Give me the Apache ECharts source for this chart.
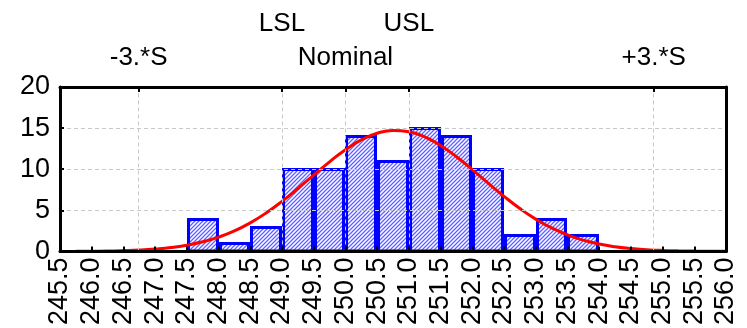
<!DOCTYPE html>
<html>
<head>
<meta charset="utf-8">
<style>
  html, body { margin: 0; padding: 0; background: #fff; }
  #chart { width: 747px; height: 328px; }
</style>
<script src="https://cdn.jsdelivr.net/npm/echarts/dist/echarts.min.js"></script>
</head>
<body>
<div id="chart"></div>
<script>
// Histogram bins: lower edge, upper edge, count
const binStart = [247.5, 248.0, 248.5, 249.0, 249.5, 250.0, 250.5, 251.0, 251.5, 252.0, 252.5, 253.0, 253.5];
const binEnd   = [248.0, 248.5, 249.0, 249.5, 250.0, 250.5, 251.0, 251.5, 252.0, 252.5, 253.0, 253.5, 254.0];
const binCount = [4, 1, 3, 10, 10, 14, 11, 15, 14, 10, 2, 4, 2];

// Fitted normal curve, sampled along the x axis
const curveX = [245.5, 245.75, 246.0, 246.25, 246.5, 246.75, 247.0, 247.25, 247.5, 247.75,
                248.0, 248.25, 248.5, 248.75, 249.0, 249.25, 249.5, 249.75, 250.0, 250.25,
                250.5, 250.75, 251.0, 251.25, 251.5, 251.75, 252.0, 252.25, 252.5, 252.75,
                253.0, 253.25, 253.5, 253.75, 254.0, 254.25, 254.5, 254.75, 255.0, 255.25,
                255.5, 255.75, 256.0];
const curveY = [0.007, 0.014, 0.03, 0.05, 0.10, 0.17, 0.29, 0.47, 0.76, 1.17,
                1.74, 2.50, 3.48, 4.68, 6.09, 7.65, 9.29, 10.90, 12.37, 13.56,
                14.37, 14.72, 14.57, 13.94, 12.89, 11.52, 9.95, 8.30, 6.70, 5.22,
                3.93, 2.86, 2.02, 1.37, 0.90, 0.57, 0.35, 0.21, 0.12, 0.07,
                0.04, 0.02, 0.01];

// Reference markers along the top edge
const markNames = ['-3.*S', 'LSL', 'Nominal', 'USL', '+3.*S'];
const markValues = [246.74, 249.0, 250.0, 251.0, 254.86];

const xMin = 245.5, xMax = 256.0, xStep = 0.5;
const yMin = 0, yMax = 20, yStep = 5;

const FONT = 'Liberation Sans, Arial, sans-serif';

// Diagonal hatch fill for the bars
function makeHatch() {
  const s = 4;
  const c = document.createElement('canvas');
  c.width = s; c.height = s;
  const g = c.getContext('2d');
  g.fillStyle = '#ffffff';
  g.fillRect(0, 0, s, s);
  g.strokeStyle = 'rgba(30,30,255,0.7)';
  g.lineWidth = 1.3;
  g.beginPath();
  g.moveTo(-1, s + 1); g.lineTo(s + 1, -1);
  g.moveTo(-1, 1); g.lineTo(1, -1);
  g.moveTo(s - 1, s + 1); g.lineTo(s + 1, s - 1);
  g.stroke();
  return c;
}
const hatch = { type: 'pattern', image: makeHatch(), repeat: 'repeat' };

const upperNames = ['LSL', 'USL'];
const lowerTop = [], upperTop = [];
markNames.forEach((n, i) => {
  (upperNames.indexOf(n) >= 0 ? upperTop : lowerTop).push(markValues[i]);
});
function markName(v) {
  let best = 0, bd = Infinity;
  markValues.forEach((m, i) => { const d = Math.abs(m - v); if (d < bd) { bd = d; best = i; } });
  return markNames[best];
}

const bins = binStart.map((s, i) => [s, binEnd[i], binCount[i]]);
const curve = curveX.map((x, i) => [x, curveY[i]]);

const chart = echarts.init(document.getElementById('chart'), null, { renderer: 'canvas' });

const frameLine = { show: true, onZero: false, lineStyle: { color: '#000', width: 3 } };
const labelText = { color: '#000', fontFamily: FONT, fontSize: 27 };
const topText = { color: '#000', fontFamily: FONT, fontSize: 26 };

chart.setOption({
  animation: false,
  backgroundColor: '#fff',
  grid: { left: 60, right: 21, top: 87, bottom: 76 },
  xAxis: [
    {
      type: 'value', min: xMin, max: xMax, interval: xStep, z: 10,
      axisLine: frameLine,
      axisTick: { show: true, inside: true, length: 5, lineStyle: { color: '#000', width: 2 } },
      splitLine: { show: false },
      axisLabel: Object.assign({ rotate: 90, margin: 6, formatter: v => v.toFixed(1) }, labelText)
    },
    {
      type: 'value', position: 'top', min: xMin, max: xMax, z: 10,
      axisLine: frameLine, splitLine: { show: false },
      axisTick: { show: true, inside: true, length: 5, customValues: markValues, lineStyle: { color: '#000', width: 2 } },
      axisLabel: Object.assign({ margin: 16, customValues: lowerTop, formatter: markName }, topText)
    },
    {
      type: 'value', position: 'top', min: xMin, max: xMax, offset: 34,
      axisLine: { show: false }, axisTick: { show: false }, splitLine: { show: false },
      axisLabel: Object.assign({ margin: 16, customValues: upperTop, formatter: markName }, topText)
    }
  ],
  yAxis: [
    {
      type: 'value', min: yMin, max: yMax, interval: yStep, z: 10,
      axisLine: frameLine,
      axisTick: { show: true, inside: true, length: 4, lineStyle: { color: '#000', width: 2 } },
      splitLine: { show: true, lineStyle: { color: '#c8c8c8', type: [4, 3], width: 1 } },
      axisLabel: Object.assign({ margin: 10 }, labelText)
    },
    {
      type: 'value', position: 'right', min: yMin, max: yMax, interval: yStep, z: 10,
      axisLine: frameLine, axisTick: { show: false }, axisLabel: { show: false }, splitLine: { show: false }
    }
  ],
  series: [
    {
      // vertical guide lines at the marker positions
      type: 'line', data: [], z: 1, silent: true,
      markLine: {
        silent: true, symbol: 'none', label: { show: false },
        lineStyle: { color: '#c8c8c8', type: [4, 3], width: 1 },
        data: markValues.map(v => ({ xAxis: v }))
      }
    },
    {
      type: 'custom', z: 2, data: bins,
      encode: { x: [0, 1], y: 2 },
      renderItem: function (params, api) {
        const p0 = api.coord([api.value(0), api.value(2)]);
        const p1 = api.coord([api.value(1), 0]);
        const lw = 3;
        const x0 = Math.round(p0[0]), x1 = Math.round(p1[0]);
        const y0 = Math.round(p0[1]), y1 = Math.round(p1[1]);
        return {
          type: 'rect',
          shape: { x: x0 + lw / 2, y: y0 + lw / 2 - 1, width: x1 - x0 - lw, height: y1 - y0 - lw / 2 + 1 },
          style: { fill: hatch, stroke: '#0000ff', lineWidth: lw }
        };
      }
    },
    {
      type: 'line', z: 3, data: curve, smooth: true, symbol: 'none',
      lineStyle: { color: '#ff0000', width: 3 }
    }
  ]
});
</script>
</body>
</html>
